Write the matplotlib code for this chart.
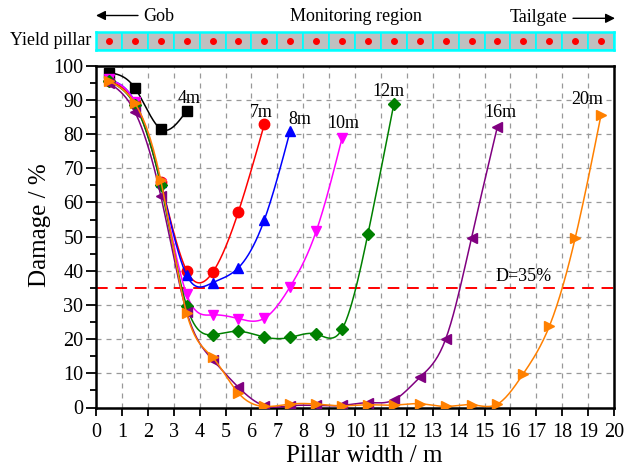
import numpy as np
import matplotlib
matplotlib.use("Agg")
import matplotlib.pyplot as plt

plt.rcParams['font.family'] = ['Liberation Serif', 'DejaVu Serif']
plt.rcParams['mathtext.fontset'] = 'stix'

# Pillar damage for different pillar widths (x = position across the pillar, m)
x_4m = [0.5, 1.5, 2.5, 3.5]
d_4m = [98.0, 93.5, 81.5, 86.8]

x_7m = [0.5, 1.5, 2.5, 3.5, 4.5, 5.5, 6.5]
d_7m = [95.5, 89.0, 66.0, 40.0, 39.5, 57.3, 82.9]

x_8m = [0.5, 1.5, 2.5, 3.5, 4.5, 5.5, 6.5, 7.5]
d_8m = [96.0, 89.5, 66.0, 38.7, 36.5, 40.9, 54.9, 81.0]

x_10m = [0.5, 1.5, 2.5, 3.5, 4.5, 5.5, 6.5, 7.5, 8.5, 9.5]
d_10m = [96.0, 89.5, 65.5, 33.1, 27.1, 26.0, 26.1, 35.4, 51.5, 78.8]

x_12m = [0.5, 1.5, 2.5, 3.5, 4.5, 5.5, 6.5, 7.5, 8.5, 9.5, 10.5, 11.5]
d_12m = [95.5, 88.5, 65.0, 29.7, 21.3, 22.3, 20.6, 20.5, 21.5, 22.9, 50.8, 88.8]

x_16m = [0.5, 1.5, 2.5, 3.5, 4.5, 5.5, 6.5, 7.5, 8.5, 9.5, 10.5, 11.5, 12.5, 13.5, 14.5, 15.5]
d_16m = [95.0, 86.5, 62.0, 28.0, 14.0, 5.9, 0.5, 0.5, 0.6, 0.6, 1.4, 2.2, 8.8, 20.0, 49.7, 82.2]

x_20m = [0.5, 1.5, 2.5, 3.5, 4.5, 5.5, 6.5, 7.5, 8.5, 9.5, 10.5, 11.5, 12.5, 13.5,
         14.5, 15.5, 16.5, 17.5, 18.5, 19.5]
d_20m = [95.5, 89.0, 66.5, 27.6, 14.7, 4.2, 0.3, 1.0, 1.0, 0.5, 0.8, 0.7, 1.1, 0.3,
         0.8, 1.0, 9.9, 23.7, 49.5, 85.6]

series_names = ['4m', '7m', '8m', '10m', '12m', '16m', '20m']
threshold = 35
n_cells = 20


def natural_spline(x, y, num=300):
    x = np.asarray(x, float)
    y = np.asarray(y, float)
    n = len(x)
    h = np.diff(x)
    A = np.zeros((n, n))
    b = np.zeros(n)
    A[0, 0] = A[-1, -1] = 1.0
    for i in range(1, n - 1):
        A[i, i - 1] = h[i - 1]
        A[i, i] = 2 * (h[i - 1] + h[i])
        A[i, i + 1] = h[i]
        b[i] = 3 * ((y[i + 1] - y[i]) / h[i] - (y[i] - y[i - 1]) / h[i - 1])
    c = np.linalg.solve(A, b)
    xs = np.linspace(x[0], x[-1], num)
    idx = np.clip(np.searchsorted(x, xs) - 1, 0, n - 2)
    dx = xs - x[idx]
    bb = (y[idx + 1] - y[idx]) / h[idx] - h[idx] * (2 * c[idx] + c[idx + 1]) / 3
    dd = (c[idx + 1] - c[idx]) / (3 * h[idx])
    ys = y[idx] + bb * dx + c[idx] * dx ** 2 + dd * dx ** 3
    return xs, ys


W, H = 636, 471
fig = plt.figure(figsize=(W / 100, H / 100), dpi=100)

L, R, T, B = 96, 614, 65.7, 407.5
ax = fig.add_axes([L / W, 1 - B / H, (R - L) / W, (B - T) / H])

styles = [
    (x_4m, d_4m, 'black', 's'),
    (x_7m, d_7m, 'red', 'o'),
    (x_8m, d_8m, 'blue', '^'),
    (x_10m, d_10m, '#ff00ff', 'v'),
    (x_12m, d_12m, '#008000', 'D'),
    (x_16m, d_16m, '#800080', '<'),
    (x_20m, d_20m, '#ff8000', '>'),
]
for i, (xv, yv, col, mk) in enumerate(styles):
    xs, ys = natural_spline(xv, yv)
    ax.plot(xs, ys, color=col, lw=1.1, zorder=3 + i)
    ms = 6.5 if mk == 'D' else 7.5
    ax.plot(xv, yv, ls='none', marker=mk, color=col, ms=ms, zorder=3 + i)

ax.axhline(threshold, color='red', lw=1.4, dashes=(6, 4), zorder=2)

label_pos = [(3.6, 90.5), (6.4, 86.2), (7.85, 84.3), (9.55, 83.1),
             (11.3, 92.4), (15.6, 86.2), (18.95, 90.2)]
for name, (lx, ly) in zip(series_names, label_pos):
    ax.text(lx, ly, name, ha='center', va='center', fontsize=13, zorder=20)
ax.text(16.5, 38.3, 'D=35%', ha='center', va='center', fontsize=13, zorder=20)

ax.set_xlim(0, 20)
ax.set_ylim(0, 100)
ax.set_xticks(np.arange(0, 21, 1))
ax.set_yticks(np.arange(0, 101, 10))
ax.set_yticks(np.arange(5, 100, 10), minor=True)
ax.tick_params(axis='both', which='major', direction='out', length=7, width=1.3,
               labelsize=14.5, pad=2)
ax.tick_params(axis='x', which='major', length=6, pad=5)
ax.tick_params(axis='y', which='minor', direction='out', length=4, width=1.3)
ax.grid(True, which='major', color='#999999', lw=0.9, dashes=(4, 4), zorder=0)
for s in ax.spines.values():
    s.set_linewidth(1.8)
ax.set_xlabel('Pillar width / m', fontsize=18, va='center', ha='center')
ax.set_ylabel('Damage / %', fontsize=18, va='center', ha='center')
ax.xaxis.set_label_coords((364 - L) / (R - L), -(456 - B) / (B - T))
ax.yaxis.set_label_coords((40 - L) / (R - L), (B - 225) / (B - T))

# yield pillar monitoring cells
pax = fig.add_axes([L / W, 1 - 49.5 / H, (R - L) / W, 18 / H])
cells = np.arange(n_cells)
pax.bar(cells, np.ones(n_cells), width=1, align='edge', color='#c0c0c0',
        edgecolor='#00ffff', linewidth=1.2)
pax.plot(cells + 0.5, np.full(n_cells, 0.5), ls='none', marker='o', color='red', ms=4)
pax.set_xlim(0, n_cells)
pax.set_ylim(0, 1)
pax.set_xticks([])
pax.set_yticks([])
for s in pax.spines.values():
    s.set_color('#00ffff')
    s.set_linewidth(1.8)

fig.text(91 / W, 1 - 40.5 / H, 'Yield pillar', ha='right', va='center', fontsize=13)
fig.text(143 / W, 1 - 16.5 / H, 'Gob', ha='left', va='center', fontsize=13)
fig.text(356 / W, 1 - 16.5 / H, 'Monitoring region', ha='center', va='center', fontsize=13)
fig.text(567 / W, 1 - 18 / H, 'Tailgate', ha='right', va='center', fontsize=13)
fig.add_artist(matplotlib.patches.FancyArrowPatch(
    (138 / W, 1 - 15.5 / H), (96 / W, 1 - 15.5 / H), transform=fig.transFigure,
    arrowstyle='-|>', mutation_scale=14, color='black', lw=1.0, shrinkA=0, shrinkB=0))
fig.add_artist(matplotlib.patches.FancyArrowPatch(
    (573 / W, 1 - 18.3 / H), (615 / W, 1 - 18.3 / H), transform=fig.transFigure,
    arrowstyle='-|>', mutation_scale=14, color='black', lw=1.0, shrinkA=0, shrinkB=0))

fig.savefig('out.png', dpi=100)
